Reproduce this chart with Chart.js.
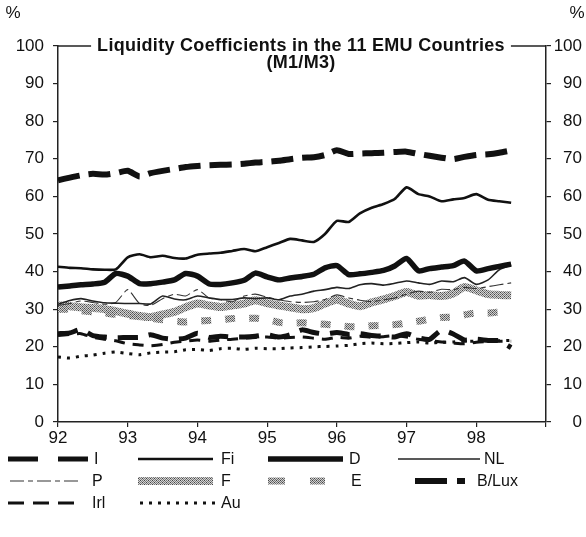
<!DOCTYPE html>
<html><head><meta charset="utf-8">
<script src="https://cdn.jsdelivr.net/npm/chart.js@4.4.1/dist/chart.umd.min.js"></script>
<style>html,body{margin:0;padding:0;background:#fff;}#wrap{width:586px;height:537px;position:relative;}</style>
</head><body><div id="wrap"><canvas id="c"></canvas></div>
<script>
// ---- data ----
const periods = [92.00,92.17,92.33,92.50,92.67,92.83, 93.00,93.17,93.33,93.50,93.67,93.83, 94.00,94.17,94.33,94.50,94.67,94.83, 95.00,95.17,95.33,95.50,95.67,95.83, 96.00,96.17,96.33,96.50,96.67,96.83, 97.00,97.17,97.33,97.50,97.67,97.83, 98.00,98.17,98.33,98.50];
const seriesNames = ['I','Fi','D','NL','P','F','E','B/Lux','Irl','Au'];
const valuesI    = [23.5,23.7,24.6,23.0,22.6,22.4, 22.5,22.5,23.2,22.3,22.0,22.3, 23.6,22.5,22.8,22.6,22.6,22.8, 23.2,22.6,23.2,24.5,23.8,23.4, 23.8,23.3,23.5,23.0,22.8,22.6, 23.5,22.4,22.0,24.4,23.4,21.8, 22.0,21.7,21.6,19.8];
const valuesFi   = [41.3,41.0,40.9,40.6,40.5,40.6, 43.8,44.6,43.8,44.2,43.6,43.5, 44.5,44.8,45.0,45.5,46.0,45.4, 46.5,47.6,48.7,48.3,47.9,50.0, 53.5,53.2,55.5,57.0,58.0,59.3, 62.4,60.6,60.0,58.7,59.2,59.6, 60.6,59.1,58.7,58.3];
const valuesD    = [35.9,36.2,36.5,36.7,37.2,39.5, 38.8,36.8,36.8,37.2,37.8,39.5, 38.8,36.7,36.6,37.0,37.7,39.6, 38.6,37.8,38.3,38.7,39.3,41.0, 41.6,39.2,39.4,39.8,40.3,41.5, 43.5,40.2,40.8,41.2,41.6,42.8, 40.2,40.8,41.4,42.0];
const valuesNL   = [31.3,32.3,32.8,32.2,31.7,31.6, 31.5,31.5,31.4,33.5,32.7,32.5, 33.5,33.0,32.6,32.6,33.0,32.8, 33.0,32.5,33.5,34.0,34.8,35.2, 35.8,35.5,36.5,36.8,36.4,36.9, 37.5,37.0,36.6,37.5,37.3,38.4, 36.6,37.8,40.5,41.8];
const valuesP    = [31.0,31.5,32.2,31.8,31.3,31.8, 35.2,31.5,31.0,32.8,34.0,33.5, 35.2,33.0,32.5,32.0,33.5,34.0, 33.2,32.5,32.0,31.8,32.0,32.6, 33.8,33.0,32.4,32.0,32.5,33.0, 34.0,34.8,34.5,35.3,35.2,35.8, 35.5,36.0,36.5,37.0];
const valuesF    = [31.0,30.8,30.5,30.3,30.0,29.5, 28.8,28.2,27.9,28.6,29.3,30.5, 31.5,31.0,30.6,31.0,31.5,32.4, 31.6,31.0,30.5,30.0,30.3,31.5, 32.5,31.5,30.8,31.8,32.6,33.5, 34.6,33.6,33.8,33.5,34.2,35.9, 35.0,34.0,33.8,33.7];
const valuesE    = [30.0,30.0,29.6,29.3,29.0,28.6, 28.3,28.0,27.6,27.2,26.8,26.6, 26.8,27.0,27.2,27.5,27.6,27.6, 27.3,26.5,26.3,26.4,26.2,26.0, 25.7,25.4,25.3,25.6,25.7,25.9, 26.3,26.8,27.3,27.8,27.9,28.5, 29.0,29.0,29.2,29.3];
const valuesBLux = [64.3,65.0,65.6,66.0,65.8,66.2, 66.8,65.3,66.2,66.8,67.3,67.8, 68.1,68.3,68.4,68.5,68.7,69.0, 69.2,69.5,69.9,70.3,70.4,71.0, 72.3,71.3,71.4,71.5,71.6,71.8, 71.9,71.3,70.8,70.3,69.9,70.5, 71.0,71.2,71.6,72.2];
const valuesIrl  = [23.0,23.3,23.5,22.5,22.0,21.6, 20.8,20.5,20.3,20.6,21.2,21.5, 21.8,21.5,21.8,22.0,22.3,22.5, 22.6,22.3,22.5,22.6,22.3,22.0, 22.5,22.3,22.8,22.5,22.7,23.0, 22.6,22.0,21.6,21.3,21.0,20.8, 21.2,21.4,21.5,21.5];
const valuesAu   = [17.3,17.0,17.5,17.8,18.3,18.6, 18.2,17.9,18.4,18.6,18.7,19.2, 19.3,19.0,19.5,19.6,19.3,19.6, 19.5,19.5,19.7,19.8,20.0,20.1, 20.2,20.4,20.8,21.0,20.8,20.9, 21.1,21.3,21.0,21.2,21.3,21.5, 21.5,21.6,21.6,21.7];
const xTicks = [92,93,94,95,96,97,98];
const chartTitle = ['Liquidity Coefficients in the 11 EMU Countries','(M1/M3)'];

// ---- styles ----
const FONT = '"Liberation Sans", Arial, sans-serif';
function makePattern(dark, light){
  const p=document.createElement('canvas'); p.width=4; p.height=4;
  const g=p.getContext('2d'); g.fillStyle=light; g.fillRect(0,0,4,4); g.fillStyle=dark;
  for(let y=0;y<4;y++) for(let x=0;x<4;x++) if((x+y)%2===0) g.fillRect(x,y,1,1);
  g.fillStyle='#444'; g.fillRect(0,0,1,1); g.fillRect(2,2,1,1);
  return g.createPattern(p,'repeat');
}
const grayF = makePattern('#7a7a7a','#d4d4d4');
const grayE = makePattern('#6e6e6e','#cfcfcf');
const styles = {
  'I':     {color:'#111', width:5,   dash:[20,11], legendDash:[30,20], order:1},
  'Fi':    {color:'#111', width:2.6, dash:[],      order:1},
  'D':     {color:'#111', width:5.5, dash:[],      order:1},
  'NL':    {color:'#222', width:1.6, dash:[],      order:1},
  'P':     {color:'#333', width:1.1, dash:[14,4,5,4], order:1},
  'F':     {color:grayF,  width:8,   dash:[],      order:10},
  'E':     {color:grayE,  width:7,   dash:[10,14], legendDash:[17,25], order:9},
  'B/Lux': {color:'#111', width:6,   dash:[22,9],  legendDash:[32,10,8,20], order:1},
  'Irl':   {color:'#111', width:3,   dash:[11,8],  legendDash:[16,9], order:1},
  'Au':    {color:'#111', width:3,   dash:[3,6],   order:1}
};
const allValues = [valuesI,valuesFi,valuesD,valuesNL,valuesP,valuesF,valuesE,valuesBLux,valuesIrl,valuesAu];
// legend layout: [sampleX0, sampleX1, labelX, y]
const legendSlots = [
  [8,88,94,459],[138,213,221,459],[268,343,349,459],[398,480,484,459],
  [10,82,92,481],[138,213,221,481],[268,325,351,481],[415,468,477,481],
  [8,80,92,503],[140,215,221,503]
];

const datasets = seriesNames.map((n,i)=>({
  label:n,
  data: periods.map((x,j)=>({x:x, y:allValues[i][j]})),
  borderColor: styles[n].color,
  borderWidth: styles[n].width,
  borderDash: styles[n].dash,
  order: styles[n].order,
  borderCapStyle:'butt', borderJoinStyle:'round',
  pointRadius:0, tension:0.2, fill:false
}));

const decorPlugin = {
  id:'decor',
  afterDraw(chart){
    const ctx=chart.ctx, a=chart.chartArea;
    ctx.save();
    ctx.strokeStyle='#222'; ctx.lineWidth=1.5; ctx.setLineDash([]);
    ctx.beginPath(); ctx.moveTo(a.left,a.top); ctx.lineTo(a.right,a.top); ctx.stroke();
    ctx.font='bold 18px '+FONT; ctx.textAlign='center'; ctx.textBaseline='middle';
    try{ ctx.letterSpacing='0.3px'; }catch(e){}
    const cx=(a.left+a.right)/2 - 1;
    const w=ctx.measureText(chartTitle[0]).width;
    ctx.fillStyle='#fff'; ctx.fillRect(cx-w/2-6, a.top-10, w+12, 20);
    ctx.fillStyle='#111'; ctx.fillText(chartTitle[0], cx, a.top);
    ctx.fillText(chartTitle[1], cx, a.top+17);
    try{ ctx.letterSpacing='0px'; }catch(e){}
    ctx.font='17px '+FONT;
    ctx.fillText('%', 13, 13); ctx.fillText('%', 577, 13);
    chart.data.datasets.forEach((ds,i)=>{
      const [x0,x1,lx,y]=legendSlots[i];
      const st=styles[ds.label];
      ctx.beginPath(); ctx.strokeStyle=ds.borderColor; ctx.lineWidth=ds.borderWidth;
      ctx.setLineDash(st.legendDash||ds.borderDash||[]); ctx.lineCap='butt';
      ctx.moveTo(x0,y); ctx.lineTo(x1,y); ctx.stroke();
      ctx.setLineDash([]);
      ctx.fillStyle='#111'; ctx.textAlign='left'; ctx.font='16px '+FONT;
      ctx.fillText(ds.label, lx, y+1);
    });
    ctx.restore();
  }
};

const tickFont={family:FONT,size:17};
const axisGrid={drawOnChartArea:false, drawTicks:true, tickLength:5, color:'#222', lineWidth:1.2};
const axisBorder={display:true, color:'#222', width:1.5};

new Chart(document.getElementById('c'),{
  type:'line',
  data:{datasets},
  plugins:[decorPlugin],
  options:{
    responsive:true, maintainAspectRatio:false, animation:false,
    layout:{padding:{top:46,left:0,right:4,bottom:85}},
    plugins:{legend:{display:false}, tooltip:{enabled:false}, title:{display:false}},
    scales:{
      x:{type:'linear', min:92, max:99,
         afterBuildTicks:s=>{s.ticks=xTicks.concat([99]).map(v=>({value:v}));},
         ticks:{font:tickFont,color:'#111',padding:1,maxRotation:0,autoSkip:false,
           callback:v=> xTicks.includes(v)? String(v):''},
         grid:axisGrid, border:axisBorder, afterFit:s=>{s.height=30;}},
      y:{position:'left', min:0, max:100,
         ticks:{stepSize:10,font:tickFont,color:'#111',padding:9},
         grid:axisGrid, border:axisBorder, afterFit:s=>{s.width=58;}},
      y2:{position:'right', min:0, max:100,
         ticks:{stepSize:10,font:tickFont,color:'#111',padding:3,crossAlign:'far'},
         grid:axisGrid, border:axisBorder, afterFit:s=>{s.width=36;}}
    }
  }
});
</script></body></html>
